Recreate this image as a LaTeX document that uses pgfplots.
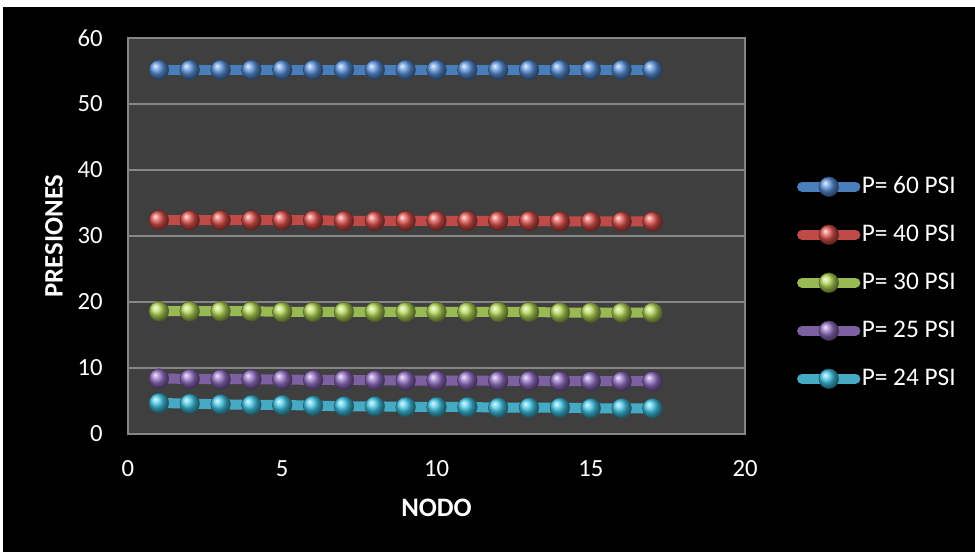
\documentclass[border=0pt]{standalone}
\usepackage{fontspec}
\setmainfont{Carlito}
\usepackage{pgfplots}
\pgfplotsset{compat=1.18}
\definecolor{plotbg}{HTML}{3F3F3F}
\definecolor{gridc}{HTML}{868686}
\definecolor{cblue}{HTML}{4A7EBB}
\definecolor{cred}{HTML}{BE4B48}
\definecolor{cgreen}{HTML}{98B954}
\definecolor{cpurple}{HTML}{7D60A0}
\definecolor{ccyan}{HTML}{46AAC5}
\definecolor{bblue}{HTML}{5A92DC}
\definecolor{bred}{HTML}{E0514C}
\definecolor{bgreen}{HTML}{B6D957}
\definecolor{bpurple}{HTML}{9570C6}
\definecolor{bcyan}{HTML}{40C6E6}
\begin{document}
\begin{tikzpicture}[x=0.75pt,y=0.75pt]
\fill[white] (0,0) rectangle (975,552);
\fill[black] (3,0) rectangle (975,545);
\useasboundingbox (0,0) rectangle (975,552);
\begin{axis}[
  at={(96pt,88.5pt)}, anchor=south west,
  scale only axis, width=462.75pt, height=297pt,
  xmin=0, xmax=20, ymin=0, ymax=60,
  xtick={0,5,10,15,20}, ytick={0,10,20,30,40,50,60},
  axis background/.style={fill=plotbg},
  ymajorgrids, grid style={gridc, line width=1pt},
  axis line style={gridc, line width=1pt},
  tick style={draw=none},
  /pgf/number format/assume math mode=true,
  ticklabel style={font=\fontsize{18.5}{18.5}\selectfont, text=white, inner sep=0pt},
  yticklabel style={xshift=-18.75pt},
  xticklabel style={yshift=-20pt},
  xlabel={NODO}, ylabel={PRESIONES},
  label style={font=\bfseries\fontsize{20}{20}\selectfont, text=white, anchor=center, inner sep=0pt},
  xlabel style={at={(axis description cs:0.5,-0.187)}},
  ylabel style={at={(axis description cs:-0.12,0.5)}},
  every axis plot/.append style={line width=7.5pt, line cap=round, line join=round, mark=ball, mark size=7.4pt},
  legend image code/.code={\draw[mark repeat=2,mark phase=2,#1] plot coordinates {(0pt,0pt)(20pt,0pt)(40pt,0pt)};},
  legend style={at={(axis description cs:1.084,0.382)}, anchor=west, draw=none, fill=none,
    inner sep=0pt, row sep=20pt, column sep=1pt,
    nodes={inner sep=0pt, text=white, font=\fontsize{19}{19}\selectfont, text height=13pt, text depth=3pt},
    cells={anchor=west}},
]
\addplot[cblue, mark options={ball color=bblue, line width=0.3pt, draw=cblue!50!black}] coordinates {
(1,55.2)(2,55.2)(3,55.2)(4,55.2)(5,55.2)(6,55.2)(7,55.2)(8,55.2)(9,55.2)(10,55.2)(11,55.2)(12,55.2)(13,55.2)(14,55.2)(15,55.2)(16,55.2)(17,55.2)};
\addlegendentry{P= 60 PSI}
\addplot[cred, mark options={ball color=bred, line width=0.3pt, draw=cred!50!black}] coordinates {
(1,32.4)(2,32.4)(3,32.4)(4,32.4)(5,32.4)(6,32.4)(7,32.3)(8,32.3)(9,32.3)(10,32.3)(11,32.3)(12,32.3)(13,32.3)(14,32.2)(15,32.2)(16,32.2)(17,32.2)};
\addlegendentry{P= 40 PSI}
\addplot[cgreen, mark options={ball color=bgreen, line width=0.3pt, draw=cgreen!50!black}] coordinates {
(1,18.6)(2,18.6)(3,18.6)(4,18.6)(5,18.5)(6,18.5)(7,18.5)(8,18.5)(9,18.5)(10,18.5)(11,18.5)(12,18.5)(13,18.5)(14,18.4)(15,18.4)(16,18.4)(17,18.4)};
\addlegendentry{P= 30 PSI}
\addplot[cpurple, mark options={ball color=bpurple, line width=0.3pt, draw=cpurple!50!black}] coordinates {
(1,8.4)(2,8.35)(3,8.3)(4,8.3)(5,8.25)(6,8.2)(7,8.2)(8,8.15)(9,8.1)(10,8.1)(11,8.1)(12,8.05)(13,8.05)(14,8.0)(15,8.0)(16,8.0)(17,8.0)};
\addlegendentry{P= 25 PSI}
\addplot[ccyan, mark options={ball color=bcyan, line width=0.3pt, draw=ccyan!50!black}] coordinates {
(1,4.7)(2,4.6)(3,4.5)(4,4.4)(5,4.4)(6,4.3)(7,4.2)(8,4.2)(9,4.1)(10,4.1)(11,4.1)(12,4.0)(13,4.0)(14,4.0)(15,3.9)(16,3.9)(17,3.9)};
\addlegendentry{P= 24 PSI}
\end{axis}
\end{tikzpicture}
\end{document}
